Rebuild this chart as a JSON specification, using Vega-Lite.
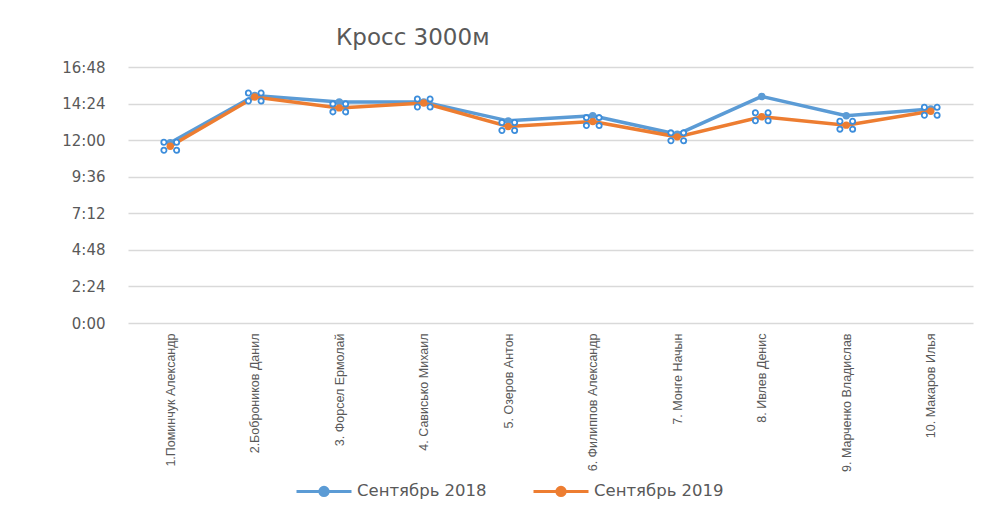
{
  "$schema": "https://vega.github.io/schema/vega-lite/v6.json",
  "width": 845,
  "height": 256,
  "autosize": "none",
  "padding": {"left": 128, "top": 67, "right": 31, "bottom": 184},
  "background": "white",
  "config": {"view": {"stroke": null}, "font": "DejaVu Sans"},
  "title": {"text": "Кросс 3000м", "anchor": "start", "frame": "group", "dx": 208, "offset": 10, "fontSize": 23, "fontWeight": "normal", "color": "#595959", "font": "DejaVu Sans"},
  "data": {"values": [
    {"name": "1.Поминчук Александр", "series": "Сентябрь 2018", "t": 710},
    {"name": "2.Боброников Данил", "series": "Сентябрь 2018", "t": 896},
    {"name": "3. Форсел Ермолай", "series": "Сентябрь 2018", "t": 870},
    {"name": "4. Савиcько Михаил", "series": "Сентябрь 2018", "t": 870},
    {"name": "5. Озеров Антон", "series": "Сентябрь 2018", "t": 796},
    {"name": "6. Филиппов Александр", "series": "Сентябрь 2018", "t": 816},
    {"name": "7. Монге Начын", "series": "Сентябрь 2018", "t": 743},
    {"name": "8. Ивлев Денис", "series": "Сентябрь 2018", "t": 892},
    {"name": "9. Марченко Владислав", "series": "Сентябрь 2018", "t": 816},
    {"name": "10. Макаров Илья", "series": "Сентябрь 2018", "t": 843},
    {"name": "1.Поминчук Александр", "series": "Сентябрь 2019", "t": 696},
    {"name": "2.Боброников Данил", "series": "Сентябрь 2019", "t": 890},
    {"name": "3. Форсел Ермолай", "series": "Сентябрь 2019", "t": 847},
    {"name": "4. Савиcько Михаил", "series": "Сентябрь 2019", "t": 866},
    {"name": "5. Озеров Антон", "series": "Сентябрь 2019", "t": 774},
    {"name": "6. Филиппов Александр", "series": "Сентябрь 2019", "t": 793},
    {"name": "7. Монге Начын", "series": "Сентябрь 2019", "t": 733},
    {"name": "8. Ивлев Денис", "series": "Сентябрь 2019", "t": 812},
    {"name": "9. Марченко Владислав", "series": "Сентябрь 2019", "t": 779},
    {"name": "10. Макаров Илья", "series": "Сентябрь 2019", "t": 834}
  ]},
  "encoding": {
    "x": {"field": "name", "type": "nominal", "sort": null, "scale": {"padding": 0.5},
      "axis": {"title": null, "labelAngle": -90, "labelFontSize": 12.5, "labelFont": "Liberation Sans", "labelColor": "#595959", "ticks": false, "domain": false, "labelPadding": 10, "labelLimit": 250, "grid": false}},
    "y": {"field": "t", "type": "quantitative", "scale": {"domain": [0, 1008], "nice": false, "zero": true},
      "axis": {"title": null, "values": [0, 144, 288, 432, 576, 720, 864, 1008],
        "labelExpr": "floor(datum.value/60) + ':' + (datum.value%60 < 10 ? '0' : '') + (datum.value%60)",
        "grid": true, "gridColor": "#D9D9D9", "gridWidth": 1.5, "ticks": false, "domain": false,
        "labelFontSize": 15, "labelFont": "DejaVu Sans", "labelColor": "#595959", "labelPadding": 23}}
  },
  "layer": [
    {"mark": {"type": "line", "strokeWidth": 3.5},
     "encoding": {"color": {"field": "series", "type": "nominal",
       "scale": {"domain": ["Сентябрь 2018", "Сентябрь 2019"], "range": ["#5B9BD5", "#ED7D31"]},
       "legend": {"orient": "none", "legendX": 167, "legendY": 395, "direction": "horizontal", "title": null,
         "symbolType": "M-1,0H1M-0.15,0A0.15,0.15 0 1,0 0.15,0A0.15,0.15 0 1,0 -0.15,0",
         "symbolSize": 3025, "symbolStrokeWidth": 3, "labelFontSize": 16.5, "labelFont": "DejaVu Sans", "labelColor": "#595959",
         "labelOffset": 4, "columnPadding": 40,
         "encode": {"symbols": {"update": {"fill": {"scale": "color", "field": "value"}, "stroke": {"scale": "color", "field": "value"}}}}}}}},
    {"mark": {"type": "point", "filled": true, "size": 55, "opacity": 1},
     "encoding": {"color": {"field": "series", "type": "nominal"}}},
    {"transform": [{"filter": "datum.series === 'Сентябрь 2019'"}],
     "mark": {"type": "point", "shape": "M-1.3,-0.58A0.38,0.38 0 1,0 -0.54,-0.58A0.38,0.38 0 1,0 -1.3,-0.58M0.54,-0.58A0.38,0.38 0 1,0 1.3,-0.58A0.38,0.38 0 1,0 0.54,-0.58M-1.3,0.58A0.38,0.38 0 1,0 -0.54,0.58A0.38,0.38 0 1,0 -1.3,0.58M0.54,0.58A0.38,0.38 0 1,0 1.3,0.58A0.38,0.38 0 1,0 0.54,0.58",
       "size": 190, "filled": true, "fill": "white", "stroke": "#3C8DDB", "strokeWidth": 1.8, "opacity": 1}}
  ]
}
